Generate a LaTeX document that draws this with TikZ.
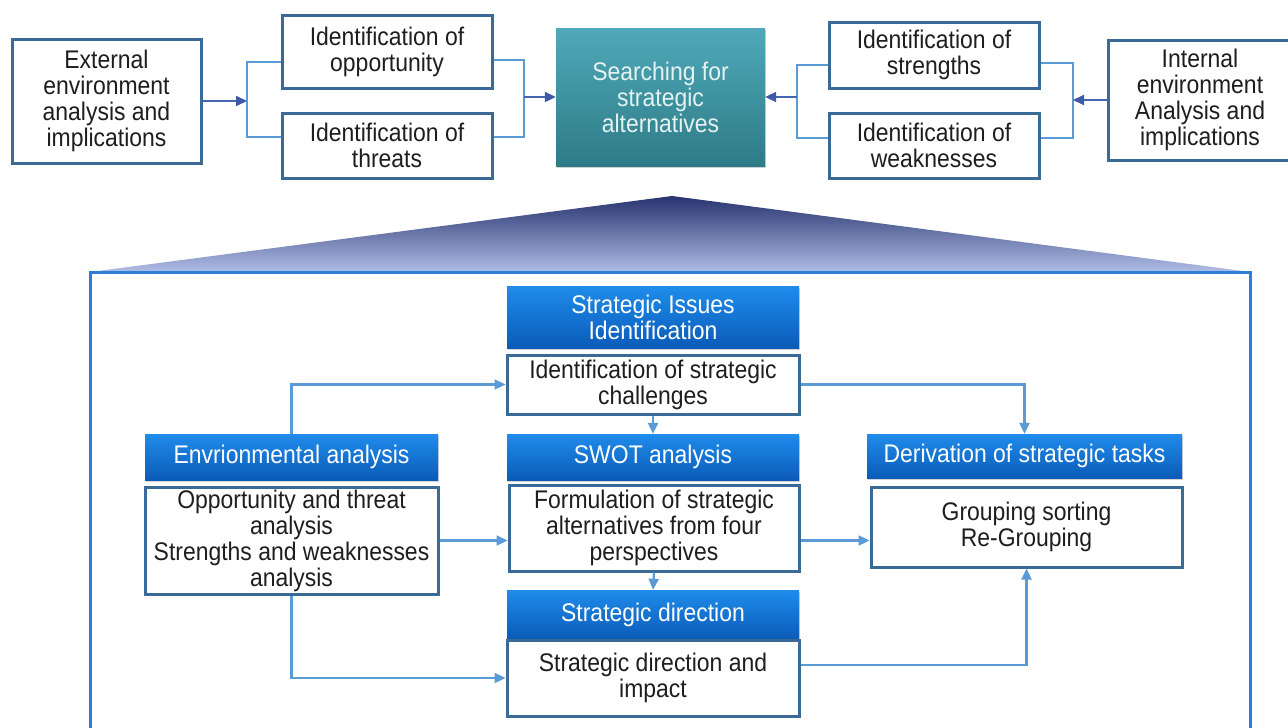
\documentclass[tikz,border=0pt]{standalone}
\usepackage{fontspec}
\setmainfont{Liberation Sans}[FakeStretch=0.9]
\usetikzlibrary{arrows.meta,shadows,calc}
\definecolor{bordc}{HTML}{3C6A96}
\definecolor{linec}{HTML}{5B9BD5}
\definecolor{arrc}{HTML}{3F58A8}
\definecolor{hdtop}{HTML}{1F8CEB}
\definecolor{hdbot}{HTML}{0B5BB8}
\definecolor{tealtop}{HTML}{4FA9B8}
\definecolor{tealbot}{HTML}{2E7B87}
\definecolor{tritop}{HTML}{27336E}
\definecolor{trimid}{HTML}{4A62B4}
\definecolor{tribot}{HTML}{AFBDE6}
\definecolor{bigc}{HTML}{2C7ED6}
\definecolor{txtc}{HTML}{1E1E1E}
\begin{document}
\begin{tikzpicture}[x=1pt,y=-1pt,
  every node/.style={font=\fontsize{25.5}{26}\selectfont, align=center, inner sep=1pt},
  wbox/.style={draw=bordc, line width=3pt, fill=white, text=txtc},
  hbox/.style={top color=hdtop, bottom color=hdbot, draw=none, text=white,
    drop shadow={opacity=0.35, shadow xshift=1pt, shadow yshift=-2pt}},
  tealbox/.style={top color=tealtop, bottom color=tealbot, draw=none, text=white!90!teal,
    drop shadow={opacity=0.35, shadow xshift=1pt, shadow yshift=-2pt}},
  tline/.style={draw=linec, line width=2pt},
  tarr/.style={draw=arrc!80!linec, line width=2pt, -{Triangle[length=11pt,width=10pt,color=arrc]}},
  conn/.style={draw=linec, line width=2.2pt, -{Triangle[length=11pt,width=10pt,color=linec]}}
]
\fill[white] (0,0) rectangle (1288,728);
\useasboundingbox (0,0) rectangle (1288,728);

% ---------- top row ----------
\node[wbox, minimum width=189pt, minimum height=124pt] (ext) at (106.5,101) {External\\environment\\analysis and\\implications};
\node[wbox, minimum width=210pt, minimum height=73pt] (opp) at (387,51.5) {Identification of\\opportunity};
\node[wbox, minimum width=210pt, minimum height=65pt] (thr) at (387,145.5) {Identification of\\threats};
\node[tealbox, minimum width=209pt, minimum height=138pt] (search) at (660.5,97) {Searching for\\strategic\\alternatives};
\node[wbox, minimum width=210pt, minimum height=66pt] (str) at (934,55) {Identification of\\strengths};
\node[wbox, minimum width=210pt, minimum height=65pt] (weak) at (934,145.5) {Identification of\\weaknesses};
\node[wbox, minimum width=184pt, minimum height=120pt] (int) at (1200,100) {Internal\\environment\\Analysis and\\implications};

\coordinate (lbt) at (247,62);
\coordinate (lbb) at (247,137);
\coordinate (rbt) at (524,60);
\coordinate (rbb) at (524,137);
\coordinate (sbt) at (797,65);
\coordinate (sbb) at (797,138);
\coordinate (ibt) at (1073,63);
\coordinate (ibb) at (1073,138);

\draw[tline] (opp.west |- lbt) -- (lbt) -- (lbb) -- (thr.west |- lbb);
\draw[tarr] (ext.east) -- (ext.east -| lbt);
\draw[tline] (opp.east |- rbt) -- (rbt) -- (rbb) -- (thr.east |- rbb);
\draw[tarr] (rbt |- search.west) -- (search.west);
\draw[tline] (str.west |- sbt) -- (sbt) -- (sbb) -- (weak.west |- sbb);
\draw[tarr] (sbt |- search.east) -- (search.east);
\draw[tline] (str.east |- ibt) -- (ibt) -- (ibb) -- (weak.east |- ibb);
\draw[tarr] (int.west) -- (int.west -| ibt);

% ---------- triangle and frame ----------
\shade[top color=tritop, middle color=trimid, bottom color=tribot] (672,196) -- (1250,272) -- (90,272) -- cycle;
\draw[bigc, line width=3pt] (90,272) rectangle (1250,745);

% ---------- inner diagram ----------
\node[hbox, minimum width=292pt, minimum height=62pt] (sih) at (653,317) {Strategic Issues\\Identification};
\node[wbox, minimum width=292pt, minimum height=59pt] (chal) at (653,384.5) {Identification of strategic\\challenges};
\node[hbox, minimum width=292pt, minimum height=46pt] (swot) at (653,457) {SWOT analysis};
\node[wbox, minimum width=290pt, minimum height=86pt] (form) at (654,528) {Formulation of strategic\\alternatives from four\\perspectives};
\node[hbox, minimum width=292pt, minimum height=49pt] (sdh) at (653,614.5) {Strategic direction};
\node[wbox, minimum width=292pt, minimum height=76pt] (imp) at (653,678) {Strategic direction and\\impact};
\node[hbox, minimum width=293pt, minimum height=46pt] (envh) at (291.5,457) {Envrionmental analysis};
\node[wbox, minimum width=293pt, minimum height=107pt] (oppan) at (291.5,540.5) {Opportunity and threat\\analysis\\Strengths and weaknesses\\analysis};
\node[hbox, minimum width=315pt, minimum height=44pt] (derh) at (1024.5,456) {Derivation of strategic tasks};
\node[wbox, minimum width=311pt, minimum height=80pt] (grp) at (1026.5,527) {Grouping sorting\\Re{-}Grouping};

\draw[conn] (envh.north) |- (chal.west);
\draw[conn] (chal.east) -| (derh.north);
\draw[conn] (chal.south) -- (swot.north);
\draw[conn] (oppan.east) -- (oppan.east -| form.west);
\draw[conn] (oppan.east -| form.east) -- (oppan.east -| grp.west);
\draw[conn] (form.south) -- (sdh.north);
\draw[conn] (oppan.south) |- (imp.west);
\draw[conn] ($(imp.east)+(0,-13)$) -| (grp.south);
\end{tikzpicture}
\end{document}
